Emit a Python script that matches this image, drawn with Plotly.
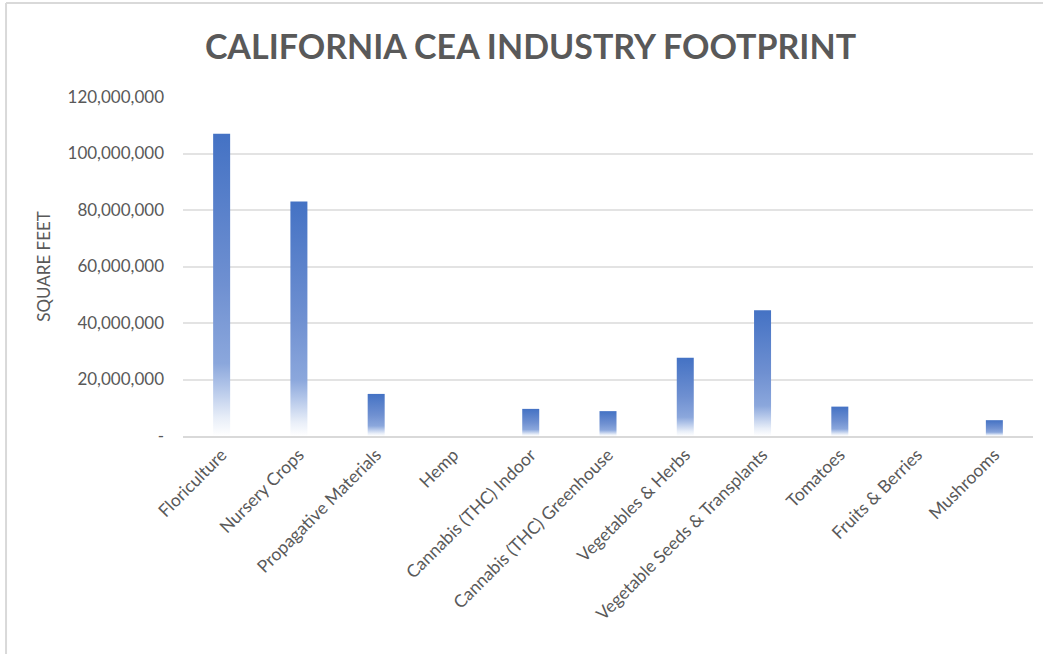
import plotly.graph_objects as go

categories = ["Floriculture", "Nursery Crops", "Propagative Materials", "Hemp",
              "Cannabis (THC) Indoor", "Cannabis (THC) Greenhouse", "Vegetables & Herbs",
              "Vegetable Seeds & Transplants", "Tomatoes", "Fruits & Berries", "Mushrooms"]
square_feet = [107_000_000, 83_000_000, 14_900_000, 0, 9_600_000, 8_800_000,
               27_700_000, 44_500_000, 10_400_000, 0, 5_600_000]
y_tick_values = [0, 20_000_000, 40_000_000, 60_000_000, 80_000_000, 100_000_000, 120_000_000]
y_tick_labels = ["-", "20,000,000", "40,000,000", "60,000,000", "80,000,000",
                 "100,000,000", "120,000,000"]

FONT = "Lato"
GRAY = "#595959"
HALF_W = 0.11
gradient = [[0.0, "#ffffff"], [0.06, "#e8eef8"], [0.16, "#b3c6e9"], [0.24, "#8ba7dc"],
            [0.5, "#6f90d1"], [1.0, "#4472c4"]]

fig = go.Figure()
for i, (cat, v) in enumerate(zip(categories, square_feet)):
    if v <= 0:
        continue
    xs = [i - HALF_W, i - HALF_W, i + HALF_W, i + HALF_W, i - HALF_W]
    ys = [0, v, v, 0, 0]
    fig.add_trace(go.Scatter(
        x=xs, y=ys, mode="lines", fill="toself", line=dict(width=0, color="rgba(0,0,0,0)"),
        fillgradient=dict(type="vertical", colorscale=gradient, start=0, stop=v),
        name=cat, showlegend=False, hoveron="fills",
    ))

fig.update_layout(
    width=1043, height=654,
    margin=dict(l=183, r=10, t=97, b=218),
    paper_bgcolor="white", plot_bgcolor="white",
    title=dict(text="<b>CALIFORNIA CEA INDUSTRY FOOTPRINT</b>", x=0.5086, xanchor="center",
               y=0.928, yanchor="middle",
               font=dict(family=FONT, size=34, color=GRAY)),
    xaxis=dict(range=[-0.5, len(categories) - 0.5], tickvals=list(range(len(categories))),
               ticktext=categories, tickangle=-45, showgrid=False, zeroline=False,
               showline=True, linecolor="#d9d9d9", linewidth=1.5, ticks="",
               tickfont=dict(family=FONT, size=17.5, color=GRAY)),
    yaxis=dict(range=[0, 120_000_000], tickvals=y_tick_values, ticktext=y_tick_labels,
               showgrid=True, gridcolor="#e3e3e3", gridwidth=1.5, zeroline=False,
               tickfont=dict(family=FONT, size=17, color=GRAY), ticklabelstandoff=18,
               title=dict(text="SQUARE FEET", font=dict(family=FONT, size=17, color=GRAY),
                          standoff=12)),
    shapes=[
        dict(type="line", xref="paper", yref="paper", x0=-0.2082, x1=1.02, y0=1.2773, y1=1.2773,
             line=dict(color="#d9d9d9", width=2)),
        dict(type="line", xref="paper", yref="paper", x0=-0.2082, x1=-0.2082, y0=1.2773, y1=-0.7,
             line=dict(color="#d9d9d9", width=2)),
    ],
)
fig.write_html("out.html", config={"displayModeBar": False},
               post_script="document.body.style.margin='0';")
